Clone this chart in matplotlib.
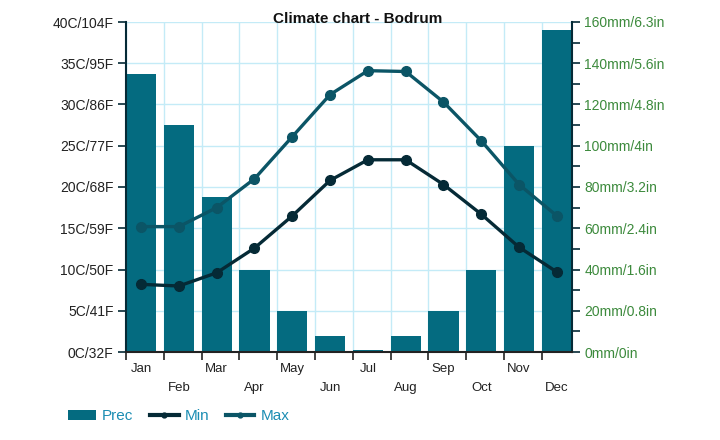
import matplotlib.pyplot as plt
from matplotlib.lines import Line2D
from matplotlib.patches import Patch
import numpy as np

plt.rcParams['font.family'] = ['Liberation Sans', 'DejaVu Sans']

months = ['Jan', 'Feb', 'Mar', 'Apr', 'May', 'Jun', 'Jul', 'Aug', 'Sep', 'Oct', 'Nov', 'Dec']
prec_mm = [135, 110, 75, 40, 20, 8, 1, 8, 20, 40, 100, 156]
temp_min = [8.2, 8.0, 9.6, 12.6, 16.5, 20.8, 23.3, 23.3, 20.3, 16.7, 12.7, 9.7]
temp_max = [15.2, 15.2, 17.5, 21.0, 26.1, 31.2, 34.1, 34.0, 30.3, 25.6, 20.3, 16.5]
left_labels = ['0C/32F', '5C/41F', '10C/50F', '15C/59F', '20C/68F', '25C/77F',
               '30C/86F', '35C/95F', '40C/104F']
right_labels = ['0mm/0in', '20mm/0.8in', '40mm/1.6in', '60mm/2.4in', '80mm/3.2in',
                '100mm/4in', '120mm/4.8in', '140mm/5.6in', '160mm/6.3in']

bar_color = '#046b80'
max_color = '#0b5566'
min_color = '#052a36'
grid_color = '#c4ebf7'
green = '#3c8a3c'

fig = plt.figure(figsize=(7.2, 4.4), dpi=100)
ax = fig.add_axes([0.175, 0.2, 0.6194, 0.75])
ax2 = ax.twinx()

x = np.arange(len(months))

# precipitation bars on right axis, drawn behind temp lines
ax2.bar(x, prec_mm, width=0.8, color=bar_color, zorder=2)
ax2.set_ylim(0, 160)
ax2.set_yticks(np.arange(0, 161, 20))
ax2.set_yticks(np.arange(10, 160, 20), minor=True)
ax2.set_yticklabels(right_labels, color=green, fontsize=10)
ax2.tick_params(axis='y', which='major', length=6, width=1.2, color=min_color, pad=3)
ax2.tick_params(axis='y', which='minor', length=6, width=1.2, color=min_color)

# temps on left axis -> put left axis on top of bars
ax.set_zorder(ax2.get_zorder() + 1)
ax.patch.set_visible(False)
ax2.patch.set_visible(True)
ax2.patch.set_facecolor('white')

ax.plot(x, temp_max, color=max_color, lw=2.4, marker='o', ms=7, zorder=4)
ax.plot(x, temp_min, color=min_color, lw=2.4, marker='o', ms=7, zorder=4)
ax.set_ylim(0, 40)
ax.set_xlim(-0.4, 11.4)
ax.set_yticks(np.arange(0, 41, 5))
ax.set_yticklabels(left_labels, fontsize=10, color='#222222')
ax.tick_params(axis='y', length=6, width=1.2, color=min_color, pad=3)

# x ticks at slot edges, labels at centers, alternating rows
ax.set_xticks(x - 0.4)
ax.set_xticklabels([])
ax.tick_params(axis='x', length=6, width=1.2, color='#222222')
for i, m in enumerate(months):
    off = -12 if i % 2 == 0 else -26
    ax.annotate(m, (i, 0), xytext=(0, off), textcoords='offset points',
                ha='center', va='center', fontsize=9.5, color='#222222',
                annotation_clip=False)

# grid drawn on the back axis
for v in x - 0.4:
    ax2.axvline(v, color=grid_color, lw=1, zorder=0)
ax2.axvline(11.4, color=grid_color, lw=1, zorder=0)
for v in np.arange(20, 161, 20):
    ax2.axhline(v, color=grid_color, lw=1, zorder=0)

for a in (ax, ax2):
    a.spines['top'].set_visible(False)
ax2.spines['left'].set_visible(False)
ax.spines['right'].set_visible(False)
ax.spines['left'].set_color(min_color)
ax.spines['left'].set_linewidth(1.5)
ax.spines['bottom'].set_color('#222222')
ax.spines['bottom'].set_linewidth(1.5)
ax2.spines['right'].set_color(min_color)
ax2.spines['right'].set_linewidth(1.5)
ax2.spines['bottom'].set_visible(False)

fig.text(0.497, 0.957, 'Climate chart - Bodrum', ha='center', va='center',
         fontsize=11, fontweight='bold', color='#111111')

handles = [Patch(facecolor=bar_color),
           Line2D([], [], color=min_color, lw=3, marker='o', ms=3.5),
           Line2D([], [], color=max_color, lw=3, marker='o', ms=3.5)]
leg = fig.legend(handles, ['Prec', 'Min', 'Max'], loc='center left',
                 bbox_to_anchor=(0.075, 0.054), ncol=3, frameon=False,
                 fontsize=11, handlelength=1.85, columnspacing=1.1, handletextpad=0.4)
for t in leg.get_texts():
    t.set_color('#1b8db3')

fig.savefig('out.png', dpi=100, facecolor='white')
